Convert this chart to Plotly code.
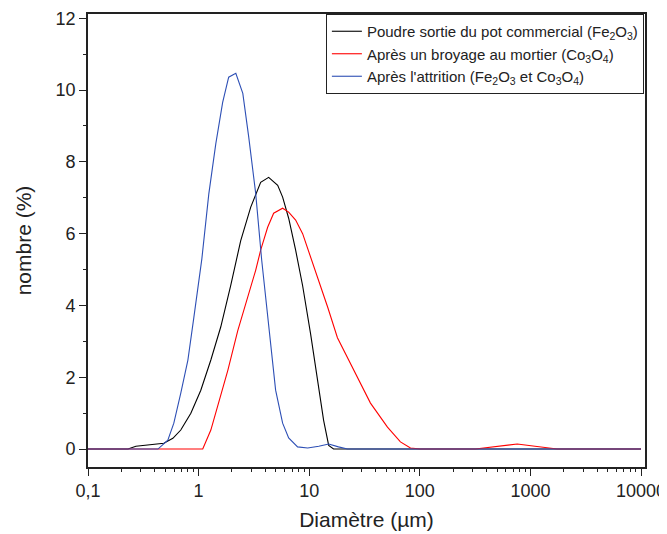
import plotly.graph_objects as go

# Black: Poudre sortie du pot commercial (Fe2O3)
x_black = [0.1, 0.23, 0.271, 0.485, 0.585, 0.69, 0.851, 1.047, 1.29, 1.585, 1.95, 2.40, 2.96,
           3.64, 4.30, 5.19, 5.75, 6.52, 7.54, 8.72, 10.3, 11.9, 13.5, 15.0, 16.6, 10000]
y_black = [0, 0, 0.08, 0.16, 0.3, 0.53, 1.0, 1.64, 2.48, 3.4, 4.55, 5.8, 6.74,
           7.43, 7.57, 7.35, 7.02, 6.43, 5.54, 4.55, 3.2, 1.9, 0.8, 0.1, 0, 0]

# Red: Après un broyage au mortier (Co3O4)
x_red = [0.1, 1.09, 1.29, 1.52, 1.84, 2.26, 2.78, 3.28, 3.64, 4.21, 4.77, 5.75, 6.52, 7.54,
         8.72, 10.3, 12.2, 14.7, 18.0, 25.2, 35.8, 51.0, 66.8, 82.3, 101, 318, 500, 760,
         1100, 1746, 10000]
y_red = [0, 0, 0.53, 1.28, 2.2, 3.3, 4.2, 4.98, 5.54, 6.18, 6.57, 6.71, 6.6, 6.38,
         6.0, 5.35, 4.7, 3.95, 3.1, 2.2, 1.28, 0.61, 0.2, 0.03, 0, 0, 0.08, 0.14,
         0.08, 0, 0]

# Blue: Après l'attrition (Fe2O3 et Co3O4)
x_blue = [0.1, 0.429, 0.527, 0.597, 0.690, 0.800, 0.906, 1.07, 1.236, 1.43, 1.65, 1.87, 2.17,
          2.51, 2.84, 3.28, 3.72, 4.04, 4.49, 4.97, 5.75, 6.52, 7.85, 9.68, 12.2, 15.0,
          18.4, 22.2, 10000]
y_blue = [0, 0, 0.25, 0.72, 1.56, 2.48, 3.67, 5.3, 7.1, 8.5, 9.66, 10.36, 10.47,
          9.91, 8.69, 7.13, 5.26, 4.2, 3.03, 1.64, 0.72, 0.31, 0.06, 0.03, 0.08, 0.14,
          0.06, 0, 0]

names = [
    "Poudre sortie du pot commercial (Fe<sub>2</sub>O<sub>3</sub>)",
    "Après un broyage au mortier (Co<sub>3</sub>O<sub>4</sub>)",
    "Après l'attrition (Fe<sub>2</sub>O<sub>3</sub> et Co<sub>3</sub>O<sub>4</sub>)",
]

x_tickvals = [0.1, 1, 10, 100, 1000, 10000]
x_ticktext = ["0,1", "1", "10", "100", "1000", "10000"]
x_minor = [k * 10 ** n for n in range(-1, 4) for k in range(2, 10)]
y_tickvals = [0, 2, 4, 6, 8, 10, 12]
y_minor = [1, 3, 5, 7, 9, 11]

X_RANGE = [-1, 4.036]
Y_RANGE = [-0.5, 12.12]
FONT = "Liberation Sans, Arial"
INK = "#222222"

fig = go.Figure()
for xs, ys, nm, col in [(x_black, y_black, names[0], "#000000"),
                        (x_red, y_red, names[1], "#ff0000"),
                        (x_blue, y_blue, names[2], "#2d4fb5")]:
    fig.add_trace(go.Scatter(x=xs, y=ys, mode="lines", name=nm,
                             line=dict(color=col, width=1.1)))

axis_common = dict(showline=True, linecolor=INK, linewidth=1.6, mirror=True,
                   ticks="outside", tickcolor=INK, tickwidth=1.4, ticklen=7,
                   showgrid=False, zeroline=False, automargin=False,
                   tickfont=dict(family=FONT, size=18, color=INK))

fig.update_layout(
    xaxis=dict(type="log", range=X_RANGE, tickmode="array",
               tickvals=x_tickvals, ticktext=x_ticktext, ticklabeloverflow="allow",
               title=dict(text="Diamètre (µm)", font=dict(family=FONT, size=21, color=INK),
                          standoff=12),
               **axis_common),
    yaxis=dict(range=Y_RANGE, tickmode="array", tickvals=y_tickvals,
               title=dict(text="nombre (%)", font=dict(family=FONT, size=21, color=INK),
                          standoff=18),
               **axis_common),
    # overlay axes carrying the minor ticks
    xaxis2=dict(type="log", range=X_RANGE, overlaying="x", anchor="y", side="bottom",
                tickmode="array", tickvals=x_minor, ticks="outside", ticklen=4,
                tickwidth=1.2, tickcolor=INK, showticklabels=False, showline=False,
                showgrid=False, zeroline=False, automargin=False),
    yaxis2=dict(range=Y_RANGE, overlaying="y", anchor="x", side="left",
                tickmode="array", tickvals=y_minor, ticks="outside", ticklen=4,
                tickwidth=1.2, tickcolor=INK, showticklabels=False, showline=False,
                showgrid=False, zeroline=False, automargin=False),
)

# dummy invisible trace so the overlay axes are drawn
fig.add_trace(go.Scatter(x=[1], y=[1], xaxis="x2", yaxis="y2", mode="lines",
                         showlegend=False, hoverinfo="skip", line=dict(width=0)))

# the page body has an 8px default margin; margins compensate so the plot lands at the reference spot
fig.update_layout(
    width=667, height=534,
    margin=dict(l=80, r=30, t=6, b=75),
    paper_bgcolor="white", plot_bgcolor="white",
    showlegend=True,
    legend=dict(x=0.998, y=1, xanchor="right", yanchor="top",
                bgcolor="white", bordercolor=INK, borderwidth=1,
                font=dict(family=FONT, size=15, color=INK),
                tracegroupgap=0, itemwidth=30),
)

fig.write_html("out.html")
